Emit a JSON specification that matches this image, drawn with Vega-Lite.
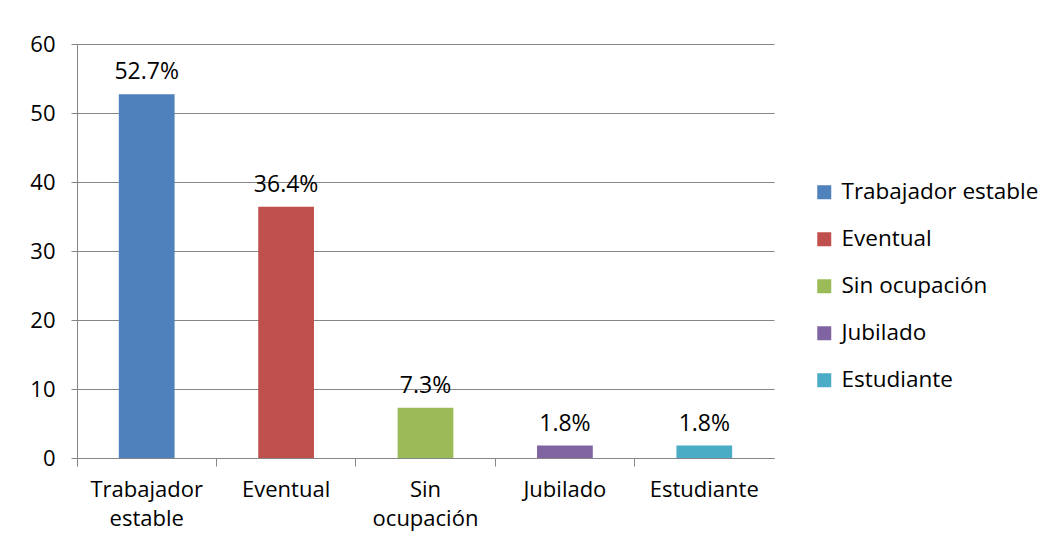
{
  "$schema": "https://vega.github.io/schema/vega-lite/v6.json",
  "width": 697,
  "height": 414,
  "padding": {"left": 77, "top": 44, "right": 280, "bottom": 90},
  "autosize": {"type": "none"},
  "background": "white",
  "config": {
    "font": "Open Sans",
    "view": {"stroke": null},
    "axis": {"labelFont": "Open Sans", "labelColor": "#000000", "domainColor": "#868686", "tickColor": "#868686", "gridColor": "#868686", "titleFont": "Open Sans"}
  },
  "data": {
    "values": [
      {"cat": "Trabajador estable", "value": 52.7, "txt": "52.7%"},
      {"cat": "Eventual", "value": 36.4, "txt": "36.4%"},
      {"cat": "Sin ocupación", "value": 7.3, "txt": "7.3%"},
      {"cat": "Jubilado", "value": 1.8, "txt": "1.8%"},
      {"cat": "Estudiante", "value": 1.8, "txt": "1.8%"}
    ]
  },
  "encoding": {
    "x": {
      "field": "cat", "type": "nominal", "sort": null,
      "scale": {"paddingInner": 0, "paddingOuter": 0},
      "axis": {
        "title": null, "labelAngle": 0, "bandPosition": 0, "tickExtra": true,
        "tickSize": 8, "labelPadding": 13, "labelFontSize": 22, "labelLineHeight": 29,
        "labelBaseline": "top",
        "labelExpr": "split(datum.label == 'Trabajador estable' ? 'Trabajador|estable' : datum.label == 'Sin ocupación' ? 'Sin|ocupación' : datum.label, '|')",
        "grid": false
      }
    },
    "y": {
      "field": "value", "type": "quantitative",
      "scale": {"domain": [0, 60], "nice": false},
      "axis": {"title": null, "values": [0, 10, 20, 30, 40, 50, 60], "tickSize": 6, "labelPadding": 16, "labelFontSize": 22, "grid": true, "domain": true}
    }
  },
  "layer": [
    {
      "mark": {"type": "bar", "width": {"band": 0.4}},
      "encoding": {
        "color": {
          "field": "cat", "type": "nominal", "sort": null,
          "scale": {
            "domain": ["Trabajador estable", "Eventual", "Sin ocupación", "Jubilado", "Estudiante"],
            "range": ["#4F81BD", "#C0504D", "#9BBB59", "#8064A2", "#4BACC6"]
          },
          "legend": {
            "title": null, "orient": "none", "legendX": 736, "legendY": 137,
            "symbolType": "square", "symbolSize": 196, "symbolStrokeWidth": 0,
            "labelFontSize": 22.5, "labelFont": "Open Sans", "labelColor": "#000000",
            "labelLimit": 300, "rowPadding": 24, "labelOffset": 6
          }
        }
      }
    },
    {
      "mark": {"type": "text", "dy": -22, "fontSize": 23, "font": "Open Sans", "color": "#000000", "baseline": "middle"},
      "encoding": {"text": {"field": "txt"}}
    }
  ]
}
